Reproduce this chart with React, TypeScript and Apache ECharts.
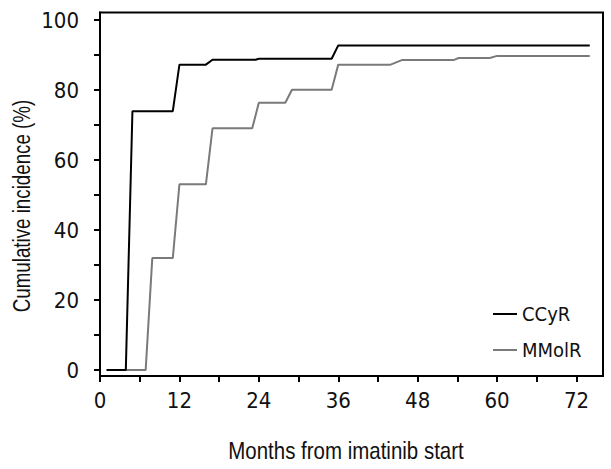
import React, { useEffect, useRef } from "react";
import * as echarts from "echarts";

const ccyrMonths = [1, 3.9, 4.9, 11, 12, 16, 17, 23.5, 24, 35, 36, 74];
const ccyrValues = [0, 0, 74.0, 74.0, 87.3, 87.3, 88.7, 88.7, 89.0, 89.0, 92.8, 92.8];

const mmolrMonths = [1, 6.9, 7.9, 11, 12, 16, 17, 23, 24, 28, 29, 35, 36, 43.9, 45.6, 53.4, 54.2, 58.9, 60, 74];
const mmolrValues = [0, 0, 32.0, 32.0, 53.1, 53.1, 69.1, 69.1, 76.4, 76.4, 80.1, 80.1, 87.3, 87.3, 88.6, 88.6, 89.2, 89.2, 89.8, 89.8];

const xLabelValues = [0, 12, 24, 36, 48, 60, 72];
const xTickValues = [0, 6, 12, 18, 24, 30, 36, 42, 48, 54, 60, 66, 72];
const yLabelValues = [0, 20, 40, 60, 80, 100];
const yTickValues = [0, 10, 20, 30, 40, 50, 60, 70, 80, 90, 100];

const FONT = "'DejaVu Sans Condensed', 'Liberation Sans Narrow', sans-serif";
const TITLE_FONT = "'Liberation Sans', Arial, sans-serif";

export default function App() {
  const ref = useRef<HTMLDivElement>(null);
  useEffect(() => {
    if (!ref.current) return;
    const chart = echarts.init(ref.current, null, { renderer: "svg" });
    const toPairs = (xs: number[], ys: number[]) => xs.map((x, i) => [x, ys[i]]);
    chart.setOption({
      animation: false,
      backgroundColor: "#fff",
      textStyle: { fontFamily: FONT },
      grid: {
        left: 100,
        right: 8,
        top: 12.5,
        bottom: 93,
        show: true,
        borderColor: "#000",
        borderWidth: 2,
        backgroundColor: "transparent",
      },
      legend: {
        orient: "vertical",
        left: 493,
        top: 303,
        padding: 0,
        icon: "rect",
        itemWidth: 24,
        itemHeight: 2,
        itemGap: 14,
        textStyle: { fontFamily: FONT, fontSize: 20, color: "#111", lineHeight: 22 },
        data: ["CCyR", "MMolR"],
      },
      xAxis: {
        type: "value",
        min: 0,
        max: 76,
        axisLine: { show: true, onZero: false, lineStyle: { color: "#000", width: 2 } },
        axisTick: { show: true, length: 6, customValues: xTickValues, lineStyle: { color: "#000", width: 2 } },
        axisLabel: { customValues: xLabelValues, margin: 13, fontSize: 22, color: "#111", fontFamily: FONT },
        splitLine: { show: false },
      },
      yAxis: {
        type: "value",
        min: -1.7,
        max: 102.2,
        axisLine: { show: true, onZero: false, lineStyle: { color: "#000", width: 2 } },
        axisTick: { show: true, length: 6, customValues: yTickValues, lineStyle: { color: "#000", width: 2 } },
        axisLabel: { customValues: yLabelValues, margin: 21, fontSize: 22, color: "#111", fontFamily: FONT },
        splitLine: { show: false },
      },
      graphic: [
        {
          type: "text",
          x: 346,
          y: 451,
          scaleX: 0.853,
          style: {
            text: "Months from imatinib start",
            fontFamily: TITLE_FONT,
            fontSize: 24,
            fill: "#111",
            align: "center",
            verticalAlign: "middle",
          },
        },
        {
          type: "text",
          x: 22,
          y: 206,
          rotation: Math.PI / 2,
          scaleX: 0.815,
          style: {
            text: "Cumulative incidence (%)",
            fontFamily: TITLE_FONT,
            fontSize: 23,
            fill: "#111",
            align: "center",
            verticalAlign: "middle",
          },
        },
      ],
      series: [
        {
          name: "CCyR",
          type: "line",
          data: toPairs(ccyrMonths, ccyrValues),
          showSymbol: false,
          symbol: "none",
          lineStyle: { color: "#000", width: 2 },
          itemStyle: { color: "#000" },
          z: 3,
        },
        {
          name: "MMolR",
          type: "line",
          data: toPairs(mmolrMonths, mmolrValues),
          showSymbol: false,
          symbol: "none",
          lineStyle: { color: "#7a7a7a", width: 2 },
          itemStyle: { color: "#7a7a7a" },
          z: 2,
        },
      ],
    });
    return () => chart.dispose();
  }, []);
  return <div ref={ref} style={{ width: 611, height: 469, position: "absolute", left: 0, top: 0 }} />;
}
